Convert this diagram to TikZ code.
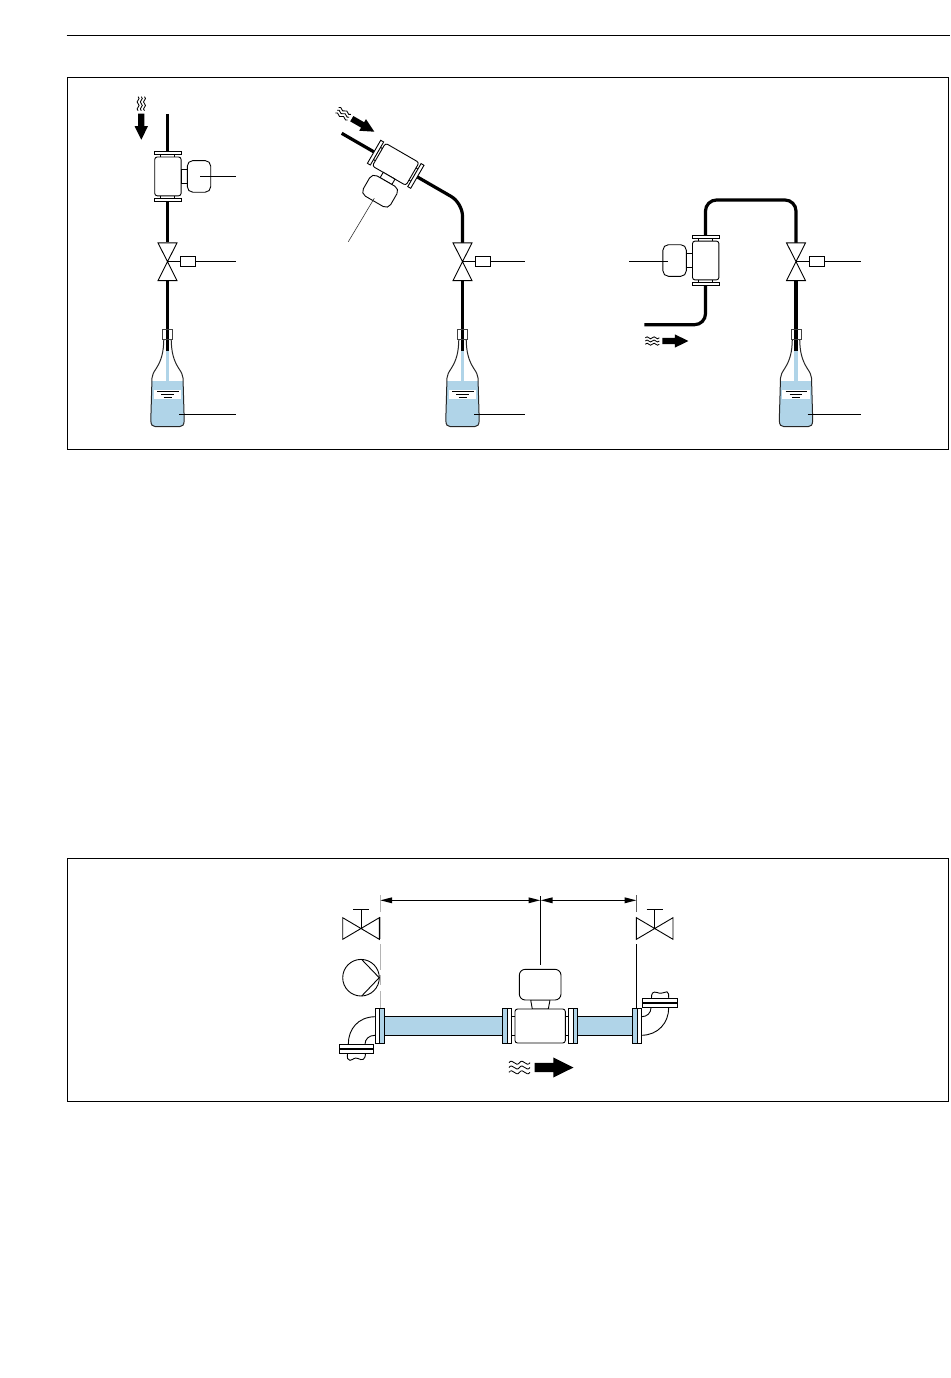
\documentclass[tikz,border=0pt]{standalone}
\definecolor{liquid}{HTML}{B0D4E8}
\definecolor{dimgray}{HTML}{B4B4B4}
\tikzset{
  x=1pt,y=-1pt,
  thin line/.style={line width=0.8pt,black},
  leader/.style={line width=0.7pt,black},
  frameline/.style={line width=1pt,black},
  pipe/.style={line width=3.2pt,black},
  part/.style={line width=0.9pt,draw=black,fill=white},
  meterpic/.pic={
    \fill[white] (-13.2,-25) rectangle (42.8,25);
    \draw[part] (-7,-22) rectangle (7,22);
    \draw[part] (-13.3,-25) rectangle (13.3,-21.6);
    \draw[part] (-13.3,25) rectangle (13.3,21.6);
    \draw[part,rounded corners=2.5pt] (-13.2,-19.4) rectangle (13.2,19.4);
    \draw[part] (13.2,-6.8) rectangle (19.4,6.8);
    \draw[part,rounded corners=5.5pt] (19.4,-15.8) rectangle (42.8,15.8);
  },
  valvepic/.pic={
    \draw[line width=0.9pt,fill=white] (-9.5,242.8) -- (9.5,242.8) -- (-9.5,280.6) -- (9.5,280.6) -- cycle;
    \draw[line width=0.8pt] (0,261.7) -- (13,261.7);
    \draw[part] (13,256) rectangle (28,266.8);
  },
  bottlepic/.pic={
    \draw[pipe] (0,280.6) -- (0,351);
    \begin{scope}
      \clip (-3.7,339.3) .. controls (-3.9,352) and (-6,360) .. (-11,368) .. controls (-14,372.5) and (-15.3,375) .. (-15.5,378) -- (-16.7,420) .. controls (-16.7,425) and (-15,426.7) .. (-12,426.7) -- (12,426.7) .. controls (15,426.7) and (16.7,425) .. (16.7,420) -- (15.5,378) .. controls (15.3,375) and (14,372.5) .. (11,368) .. controls (6,360) and (3.9,352) .. (3.7,339.3) -- cycle;
      \fill[liquid] (-20,380.7) rectangle (20,430);
    \end{scope}
    \fill[liquid] (-1.9,351) rectangle (1.9,381);
    \fill[white] (-13.8,390) rectangle (13.5,399.3);
    \draw[line width=0.7pt] (-10.5,391.4) -- (11,391.4) (-6.3,394.4) -- (6,394.4) (-4,397.7) -- (4.3,397.7);
    \draw[line width=1pt,draw=black!85] (-3.7,339.3) .. controls (-3.9,352) and (-6,360) .. (-11,368) .. controls (-14,372.5) and (-15.3,375) .. (-15.5,378) -- (-16.7,420) .. controls (-16.7,425) and (-15,426.7) .. (-12,426.7) -- (12,426.7) .. controls (15,426.7) and (16.7,425) .. (16.7,420) -- (15.5,378) .. controls (15.3,375) and (14,372.5) .. (11,368) .. controls (6,360) and (3.9,352) .. (3.7,339.3);
    \draw[line width=0.9pt,draw=black!75] (-5,329.4) rectangle (5.2,339.3);
  },
  flowpic/.pic={
    \fill[black] (-3.1,-26) -- (3.1,-26) -- (3.1,-13.5) -- (6.7,-13.5) -- (0,0) -- (-6.7,-13.5) -- (-3.1,-13.5) -- cycle;
    \foreach \d in {-3.2,0,3.2}{
      \draw[line width=0.85pt] (\d,-43) .. controls (\d+3.5,-40.5) and (\d-3.5,-38.5) .. (\d,-36) .. controls (\d+3.5,-33.5) and (\d-3.5,-31.5) .. (\d,-29);
    }
  },
  handvalve/.pic={
    \draw[line width=0.9pt] (-18.3,917.7) -- (18.3,939.3) -- (18.3,917.7) -- (-18.3,939.3) -- cycle;
    \draw[line width=0.9pt] (0,928.5) -- (0,909.3) (-8,909.3) -- (8,909.3);
  }
}
\begin{document}
\begin{tikzpicture}
\useasboundingbox (0,0) rectangle (950,1378);
% page rule and frames
\draw[frameline] (66.7,35.4) -- (950,35.4);
\draw[frameline] (67.5,77.4) rectangle (948.5,449.2);
\draw[frameline] (67.5,858.2) rectangle (948.5,1101);

% --- group 1
\draw[pipe] (167.7,114) -- (167.7,242);
\pic[shift={(167.9,176.4)}] {meterpic};
\pic[shift={(167.5,0)}] {valvepic};
\pic[shift={(167.5,0)}] {bottlepic};
\pic[shift={(141.3,139.7)}] {flowpic};
\draw[leader] (200,176.3) -- (235.7,176.3);
\draw[leader] (195.5,261.3) -- (235.7,261.3);
\draw[leader] (179,414.3) -- (235.7,414.3);

% --- group 2
\draw[pipe,rounded corners=13pt] (341.7,133.3) -- (462.5,203) -- (462.5,244);
\pic[shift={(395.7,164.3)},rotate=60,xscale=-1] {meterpic};
\pic[shift={(462.5,0)}] {valvepic};
\pic[shift={(462.5,0)}] {bottlepic};
\pic[shift={(374.3,131.7)},rotate=60] {flowpic};
\draw[line width=0.6pt,black!80] (374.3,198.3) -- (348.3,241.7);
\draw[leader] (490.5,261.3) -- (525,261.3);
\draw[leader] (474,414.3) -- (525,414.3);

% --- group 3
\draw[pipe,rounded corners=11pt] (644.3,324.7) -- (705.5,324.7) -- (705.5,200) -- (796,200) -- (796,244);
\pic[shift={(705.7,260.5)},xscale=-1] {meterpic};
\pic[shift={(796,0)}] {valvepic};
\pic[shift={(796,0)}] {bottlepic};
\pic[shift={(688.3,341)},rotate=90] {flowpic};
\draw[leader] (629.3,261.3) -- (668.3,261.3);
\draw[leader] (824,261.3) -- (861,261.3);
\draw[leader] (807.5,414.3) -- (861,414.3);

% --- lower figure
\foreach \a/\b in {895/912,917/939,944/970,975/985,991/1008}{
  \draw[line width=1pt,dimgray] (380,\a) -- (380,\b);
}
\draw[line width=0.7pt,dimgray!50!black] (636.7,895) -- (636.7,912);
\draw[line width=0.9pt] (636.4,944.3) -- (636.4,1008);
\draw[line width=0.9pt] (540.3,896) -- (540.3,965);
% dimension lines
\draw[line width=0.8pt] (385,900.3) -- (535,900.3) (546,900.3) -- (632,900.3);
\fill[black] (380.5,900.3) -- (392,897.3) -- (392,903.3) -- cycle;
\fill[black] (540,900.3) -- (528.5,897.3) -- (528.5,903.3) -- cycle;
\fill[black] (541,900.3) -- (552.5,897.3) -- (552.5,903.3) -- cycle;
\fill[black] (636.2,900.3) -- (624.7,897.3) -- (624.7,903.3) -- cycle;
% hand valves and pump
\pic[shift={(361,0)}] {handvalve};
\pic[shift={(654.7,0)}] {handvalve};
\draw[line width=0.9pt] (361,977.7) circle[radius=18.3];
\draw[line width=0.9pt] (361.7,959.5) -- (379.2,977.7) -- (361.7,996);
% elbows
\draw[line width=0.9pt] (375,1016.7) .. controls (358,1017) and (348.3,1029) .. (348.3,1044.3);
\draw[line width=0.9pt] (375,1035.3) .. controls (369,1035.3) and (365,1039) .. (365,1044.3);
\draw[part] (339.3,1044.3) rectangle (373.3,1053.7);
\draw[line width=1.4pt] (339.3,1049) -- (373.3,1049);
\draw[line width=0.9pt] (347.5,1053.7) .. controls (347,1058) and (347.5,1060.5) .. (350,1060.3) .. controls (354,1059.5) and (354,1057) .. (358,1058.5) .. controls (362,1060.5) and (365,1060.5) .. (365.5,1053.7);
\draw[line width=0.9pt] (641.7,1035.3) .. controls (658,1035) and (668.7,1023) .. (668.7,1007.7);
\draw[line width=0.9pt] (641.7,1016.7) .. controls (647,1016.7) and (651,1013) .. (651,1007.7);
\draw[part] (642.7,998.3) rectangle (677.7,1007.7);
\draw[line width=1.4pt] (642.7,1003) -- (677.7,1003);
\draw[line width=0.9pt] (651.5,998.3) .. controls (651,993.5) and (653,991) .. (657,992.5) .. controls (661,994.5) and (664,992) .. (667,991.8) .. controls (668.7,992) and (668.7,995) .. (668.7,998.3);
% pipe sections
\draw[line width=0.9pt,fill=liquid] (384.3,1016.7) rectangle (502.3,1035.3);
\draw[line width=0.9pt,fill=liquid] (577.7,1016.7) rectangle (632.3,1035.3);
% flanges
\newcommand{\flangepair}[3]{%
  \draw[line width=0.9pt,fill=#3] (#1,1008.3) rectangle (#2,1043.3);
}
\flangepair{375}{379.6}{white}
\flangepair{379.6}{384.3}{liquid}
\flangepair{502.3}{507.2}{liquid}
\flangepair{507.2}{511.7}{white}
\flangepair{568.3}{573}{white}
\flangepair{573}{577.7}{liquid}
\flangepair{632.3}{637}{liquid}
\flangepair{637}{641.7}{white}
% meter
\draw[part] (511.7,1016.7) rectangle (515.5,1035.3);
\draw[part] (565,1016.7) rectangle (568.3,1035.3);
\draw[part] (530.7,1000) -- (550,1000) -- (548.3,1009) -- (532.3,1009) -- cycle;
\draw[part,rounded corners=2.5pt] (515,1009) rectangle (565.3,1043);
\draw[part,rounded corners=6pt] (519.3,969.3) rectangle (561,1000);
% big arrow
\pic[shift={(573.5,1067.5)},rotate=90,scale=1.5] {flowpic};
\end{tikzpicture}
\end{document}
